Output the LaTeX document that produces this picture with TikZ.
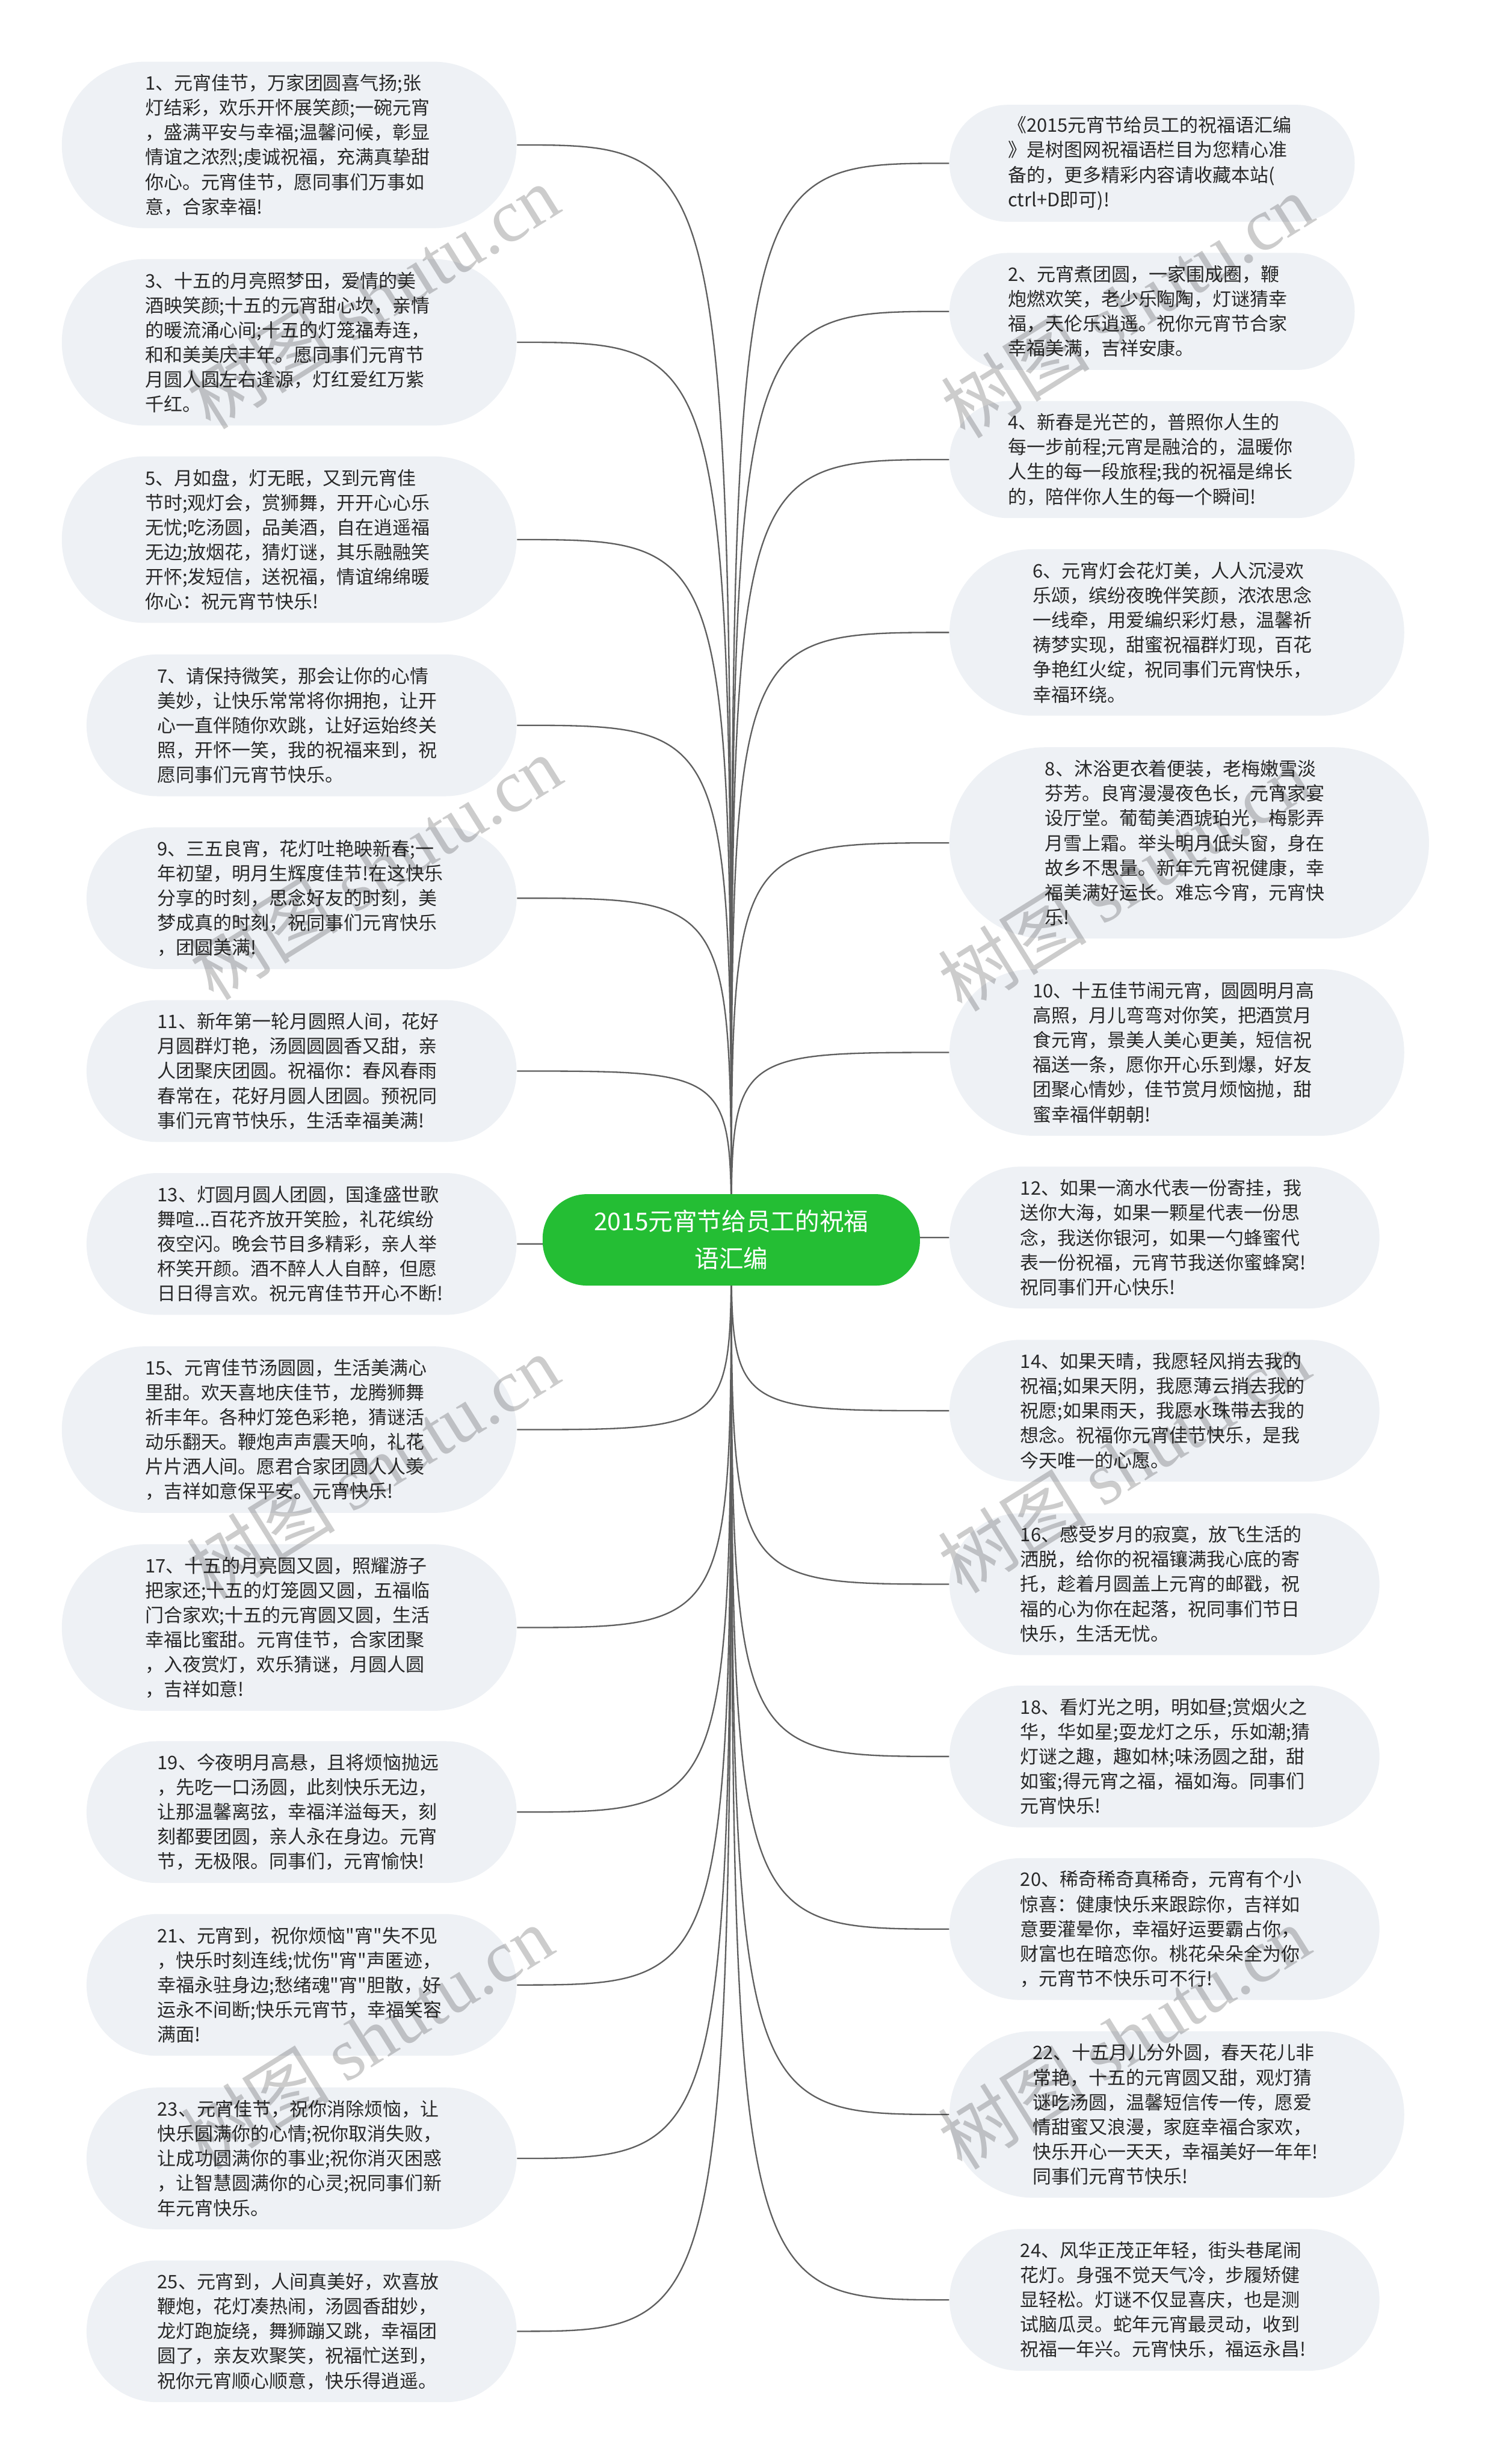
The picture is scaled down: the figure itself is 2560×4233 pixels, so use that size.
\documentclass[tikz,border=0pt]{standalone}
\usepackage{fontspec}
\newfontfamily\cjk{Noto Sans CJK SC}
\newfontfamily\wmserif{Liberation Serif}
\definecolor{boxfill}{RGB}{238,241,245}
\definecolor{txtcol}{RGB}{40,40,40}
\definecolor{rootgreen}{RGB}{36,190,52}
\definecolor{linecol}{RGB}{95,95,95}
\pgfdeclarelayer{bg}
\pgfsetlayers{bg,main}
\begin{document}
\begin{tikzpicture}[x=0.25pt,y=-0.25pt,
 leaf/.style={fill=boxfill, text=txtcol, font=\cjk\fontsize{8pt}{10.625pt}\selectfont, align=left, text width=123.75pt, inner ysep=0pt, inner xsep={(10.625*#1+7.75)*0.5pt}, minimum height={(10.625*#1+7.75)*1pt}, rounded corners={(10.625*#1+7.75)*0.499pt}},
 lleaf/.style={leaf=#1, anchor=east},
 rleaf/.style={leaf=#1, anchor=west},
 rootbox/.style={fill=rootgreen, text=white, font=\cjk\fontsize{10.5pt}{16pt}\selectfont, align=center, minimum width=162pt, minimum height=39.25pt, rounded corners=19pt, inner sep=0pt},
 conn/.style={draw=linecol, line width=0.6pt},
 wm/.style={text=black, opacity=0.2, rotate=32, font=\cjk\fontsize{32pt}{32pt}\selectfont, inner sep=0pt}
]
\useasboundingbox (0,0) rectangle (2560,4233);

\node[rootbox] (root) at (1256,2130) {2015元宵节给员工的祝福\\语汇编};

% left column
\node[lleaf=6] (L1) at (888,249) {1、元宵佳节，万家团圆喜气扬;张\\灯结彩，欢乐开怀展笑颜;一碗元宵\\，盛满平安与幸福;温馨问候，彰显\\情谊之浓烈;虔诚祝福，充满真挚甜\\你心。元宵佳节，愿同事们万事如\\意，合家幸福!};
\node[lleaf=6] (L3) at (888,588) {3、十五的月亮照梦田，爱情的美\\酒映笑颜;十五的元宵甜心坎，亲情\\的暖流涌心间;十五的灯笼福寿连，\\和和美美庆丰年。愿同事们元宵节\\月圆人圆左右逢源，灯红爱红万紫\\千红。};
\node[lleaf=6] (L5) at (888,927) {5、月如盘，灯无眠，又到元宵佳\\节时;观灯会，赏狮舞，开开心心乐\\无忧;吃汤圆，品美酒，自在逍遥福\\无边;放烟花，猜灯谜，其乐融融笑\\开怀;发短信，送祝福，情谊绵绵暖\\你心：祝元宵节快乐!};
\node[lleaf=5] (L7) at (888,1246) {7、请保持微笑，那会让你的心情\\美妙，让快乐常常将你拥抱，让开\\心一直伴随你欢跳，让好运始终关\\照，开怀一笑，我的祝福来到，祝\\愿同事们元宵节快乐。};
\node[lleaf=5] (L9) at (888,1543) {9、三五良宵，花灯吐艳映新春;一\\年初望，明月生辉度佳节!在这快乐\\分享的时刻，思念好友的时刻，美\\梦成真的时刻，祝同事们元宵快乐\\，团圆美满!};
\node[lleaf=5] (L11) at (888,1840) {11、新年第一轮月圆照人间，花好\\月圆群灯艳，汤圆圆圆香又甜，亲\\人团聚庆团圆。祝福你：春风春雨\\春常在，花好月圆人团圆。预祝同\\事们元宵节快乐，生活幸福美满!};
\node[lleaf=5] (L13) at (888,2137) {13、灯圆月圆人团圆，国逢盛世歌\\舞喧...百花齐放开笑脸，礼花缤纷\\夜空闪。晚会节目多精彩，亲人举\\杯笑开颜。酒不醉人人自醉，但愿\\日日得言欢。祝元宵佳节开心不断!};
\node[lleaf=6] (L15) at (888,2456) {15、元宵佳节汤圆圆，生活美满心\\里甜。欢天喜地庆佳节，龙腾狮舞\\祈丰年。各种灯笼色彩艳，猜谜活\\动乐翻天。鞭炮声声震天响，礼花\\片片洒人间。愿君合家团圆人人羡\\，吉祥如意保平安。元宵快乐!};
\node[lleaf=6] (L17) at (888,2796) {17、十五的月亮圆又圆，照耀游子\\把家还;十五的灯笼圆又圆，五福临\\门合家欢;十五的元宵圆又圆，生活\\幸福比蜜甜。元宵佳节，合家团聚\\，入夜赏灯，欢乐猜谜，月圆人圆\\，吉祥如意!};
\node[lleaf=5] (L19) at (888,3113) {19、今夜明月高悬，且将烦恼抛远\\，先吃一口汤圆，此刻快乐无边，\\让那温馨离弦，幸福洋溢每天，刻\\刻都要团圆，亲人永在身边。元宵\\节，无极限。同事们，元宵愉快!};
\node[lleaf=5] (L21) at (888,3410) {21、元宵到，祝你烦恼"宵"失不见\\，快乐时刻连线;忧伤"宵"声匿迹，\\幸福永驻身边;愁绪魂"宵"胆散，好\\运永不间断;快乐元宵节，幸福笑容\\满面!};
\node[lleaf=5] (L23) at (888,3708) {23、元宵佳节，祝你消除烦恼，让\\快乐圆满你的心情;祝你取消失败，\\让成功圆满你的事业;祝你消灭困惑\\，让智慧圆满你的心灵;祝同事们新\\年元宵快乐。};
\node[lleaf=5] (L25) at (888,4005) {25、元宵到，人间真美好，欢喜放\\鞭炮，花灯凑热闹，汤圆香甜妙，\\龙灯跑旋绕，舞狮蹦又跳，幸福团\\圆了，亲友欢聚笑，祝福忙送到，\\祝你元宵顺心顺意，快乐得逍遥。};

% right column
\node[rleaf=4] (R0) at (1630,280.5) {《2015元宵节给员工的祝福语汇编\\》是树图网祝福语栏目为您精心准\\备的，更多精彩内容请收藏本站(\\ctrl+D即可)!};
\node[rleaf=4] (R2) at (1630,535) {2、元宵煮团圆，一家围成圈，鞭\\炮燃欢笑，老少乐陶陶，灯谜猜幸\\福，天伦乐逍遥。祝你元宵节合家\\幸福美满，吉祥安康。};
\node[rleaf=4] (R4) at (1630,789.5) {4、新春是光芒的，普照你人生的\\每一步前程;元宵是融洽的，温暖你\\人生的每一段旅程;我的祝福是绵长\\的，陪伴你人生的每一个瞬间!};
\node[rleaf=6] (R6) at (1630,1086.5) {6、元宵灯会花灯美，人人沉浸欢\\乐颂，缤纷夜晚伴笑颜，浓浓思念\\一线牵，用爱编织彩灯悬，温馨祈\\祷梦实现，甜蜜祝福群灯现，百花\\争艳红火绽，祝同事们元宵快乐，\\幸福环绕。};
\node[rleaf=7] (R8) at (1630,1448) {8、沐浴更衣着便装，老梅嫩雪淡\\芬芳。良宵漫漫夜色长，元宵家宴\\设厅堂。葡萄美酒琥珀光，梅影弄\\月雪上霜。举头明月低头窗，身在\\故乡不思量。新年元宵祝健康，幸\\福美满好运长。难忘今宵，元宵快\\乐!};
\node[rleaf=6] (R10) at (1630,1808) {10、十五佳节闹元宵，圆圆明月高\\高照，月儿弯弯对你笑，把酒赏月\\食元宵，景美人美心更美，短信祝\\福送一条，愿你开心乐到爆，好友\\团聚心情妙，佳节赏月烦恼抛，甜\\蜜幸福伴朝朝!};
\node[rleaf=5] (R12) at (1630,2126) {12、如果一滴水代表一份寄挂，我\\送你大海，如果一颗星代表一份思\\念，我送你银河，如果一勺蜂蜜代\\表一份祝福，元宵节我送你蜜蜂窝!\\祝同事们开心快乐!};
\node[rleaf=5] (R14) at (1630,2423.5) {14、如果天晴，我愿轻风捎去我的\\祝福;如果天阴，我愿薄云捎去我的\\祝愿;如果雨天，我愿水珠带去我的\\想念。祝福你元宵佳节快乐，是我\\今天唯一的心愿。};
\node[rleaf=5] (R16) at (1630,2721.5) {16、感受岁月的寂寞，放飞生活的\\洒脱，给你的祝福镶满我心底的寄\\托，趁着月圆盖上元宵的邮戳，祝\\福的心为你在起落，祝同事们节日\\快乐，生活无忧。};
\node[rleaf=5] (R18) at (1630,3017.5) {18、看灯光之明，明如昼;赏烟火之\\华，华如星;耍龙灯之乐，乐如潮;猜\\灯谜之趣，趣如林;味汤圆之甜，甜\\如蜜;得元宵之福，福如海。同事们\\元宵快乐!};
\node[rleaf=5] (R20) at (1630,3314) {20、稀奇稀奇真稀奇，元宵有个小\\惊喜：健康快乐来跟踪你，吉祥如\\意要灌晕你，幸福好运要霸占你，\\财富也在暗恋你。桃花朵朵全为你\\，元宵节不快乐可不行!};
\node[rleaf=6] (R22) at (1630,3632.5) {22、十五月儿分外圆，春天花儿非\\常艳，十五的元宵圆又甜，观灯猜\\谜吃汤圆，温馨短信传一传，愿爱\\情甜蜜又浪漫，家庭幸福合家欢，\\快乐开心一天天，幸福美好一年年!\\同事们元宵节快乐!};
\node[rleaf=5] (R24) at (1630,3951) {24、风华正茂正年轻，街头巷尾闹\\花灯。身强不觉天气冷，步履矫健\\显轻松。灯谜不仅显喜庆，也是测\\试脑瓜灵。蛇年元宵最灵动，收到\\祝福一年兴。元宵快乐，福运永昌!};

\begin{pgfonlayer}{bg}
\fill[white] (0,0) rectangle (2560,4233);
\foreach \n in {L1,L3,L5,L7,L9,L11,L13,L15,L17,L19,L21,L23,L25}
  \draw[conn] (root.center) .. controls (root.center |- \n.east) and (root.center |- \n.east) .. (\n.east);
\foreach \n in {R0,R2,R4,R6,R8,R10,R12,R14,R16,R18,R20,R22,R24}
  \draw[conn] (root.center) .. controls (root.center |- \n.west) and (root.center |- \n.west) .. (\n.west);
\end{pgfonlayer}

% watermarks
\node[wm] (w1) at (640,510) {树图 {\wmserif shutu.cn}};
\node[wm] (w2) at (645,1490) {树图 {\wmserif shutu.cn}};
\node[wm] (w3) at (640,2520) {树图 {\wmserif shutu.cn}};
\node[wm] (w4) at (630,3500) {树图 {\wmserif shutu.cn}};
\node[wm] (w5) at (1935,525) {树图 {\wmserif shutu.cn}};
\node[wm] (w6) at (1930,1510) {树图 {\wmserif shutu.cn}};
\node[wm] (w7) at (1930,2510) {树图 {\wmserif shutu.cn}};
\node[wm] (w8) at (1930,3500) {树图 {\wmserif shutu.cn}};
\end{tikzpicture}
\end{document}
